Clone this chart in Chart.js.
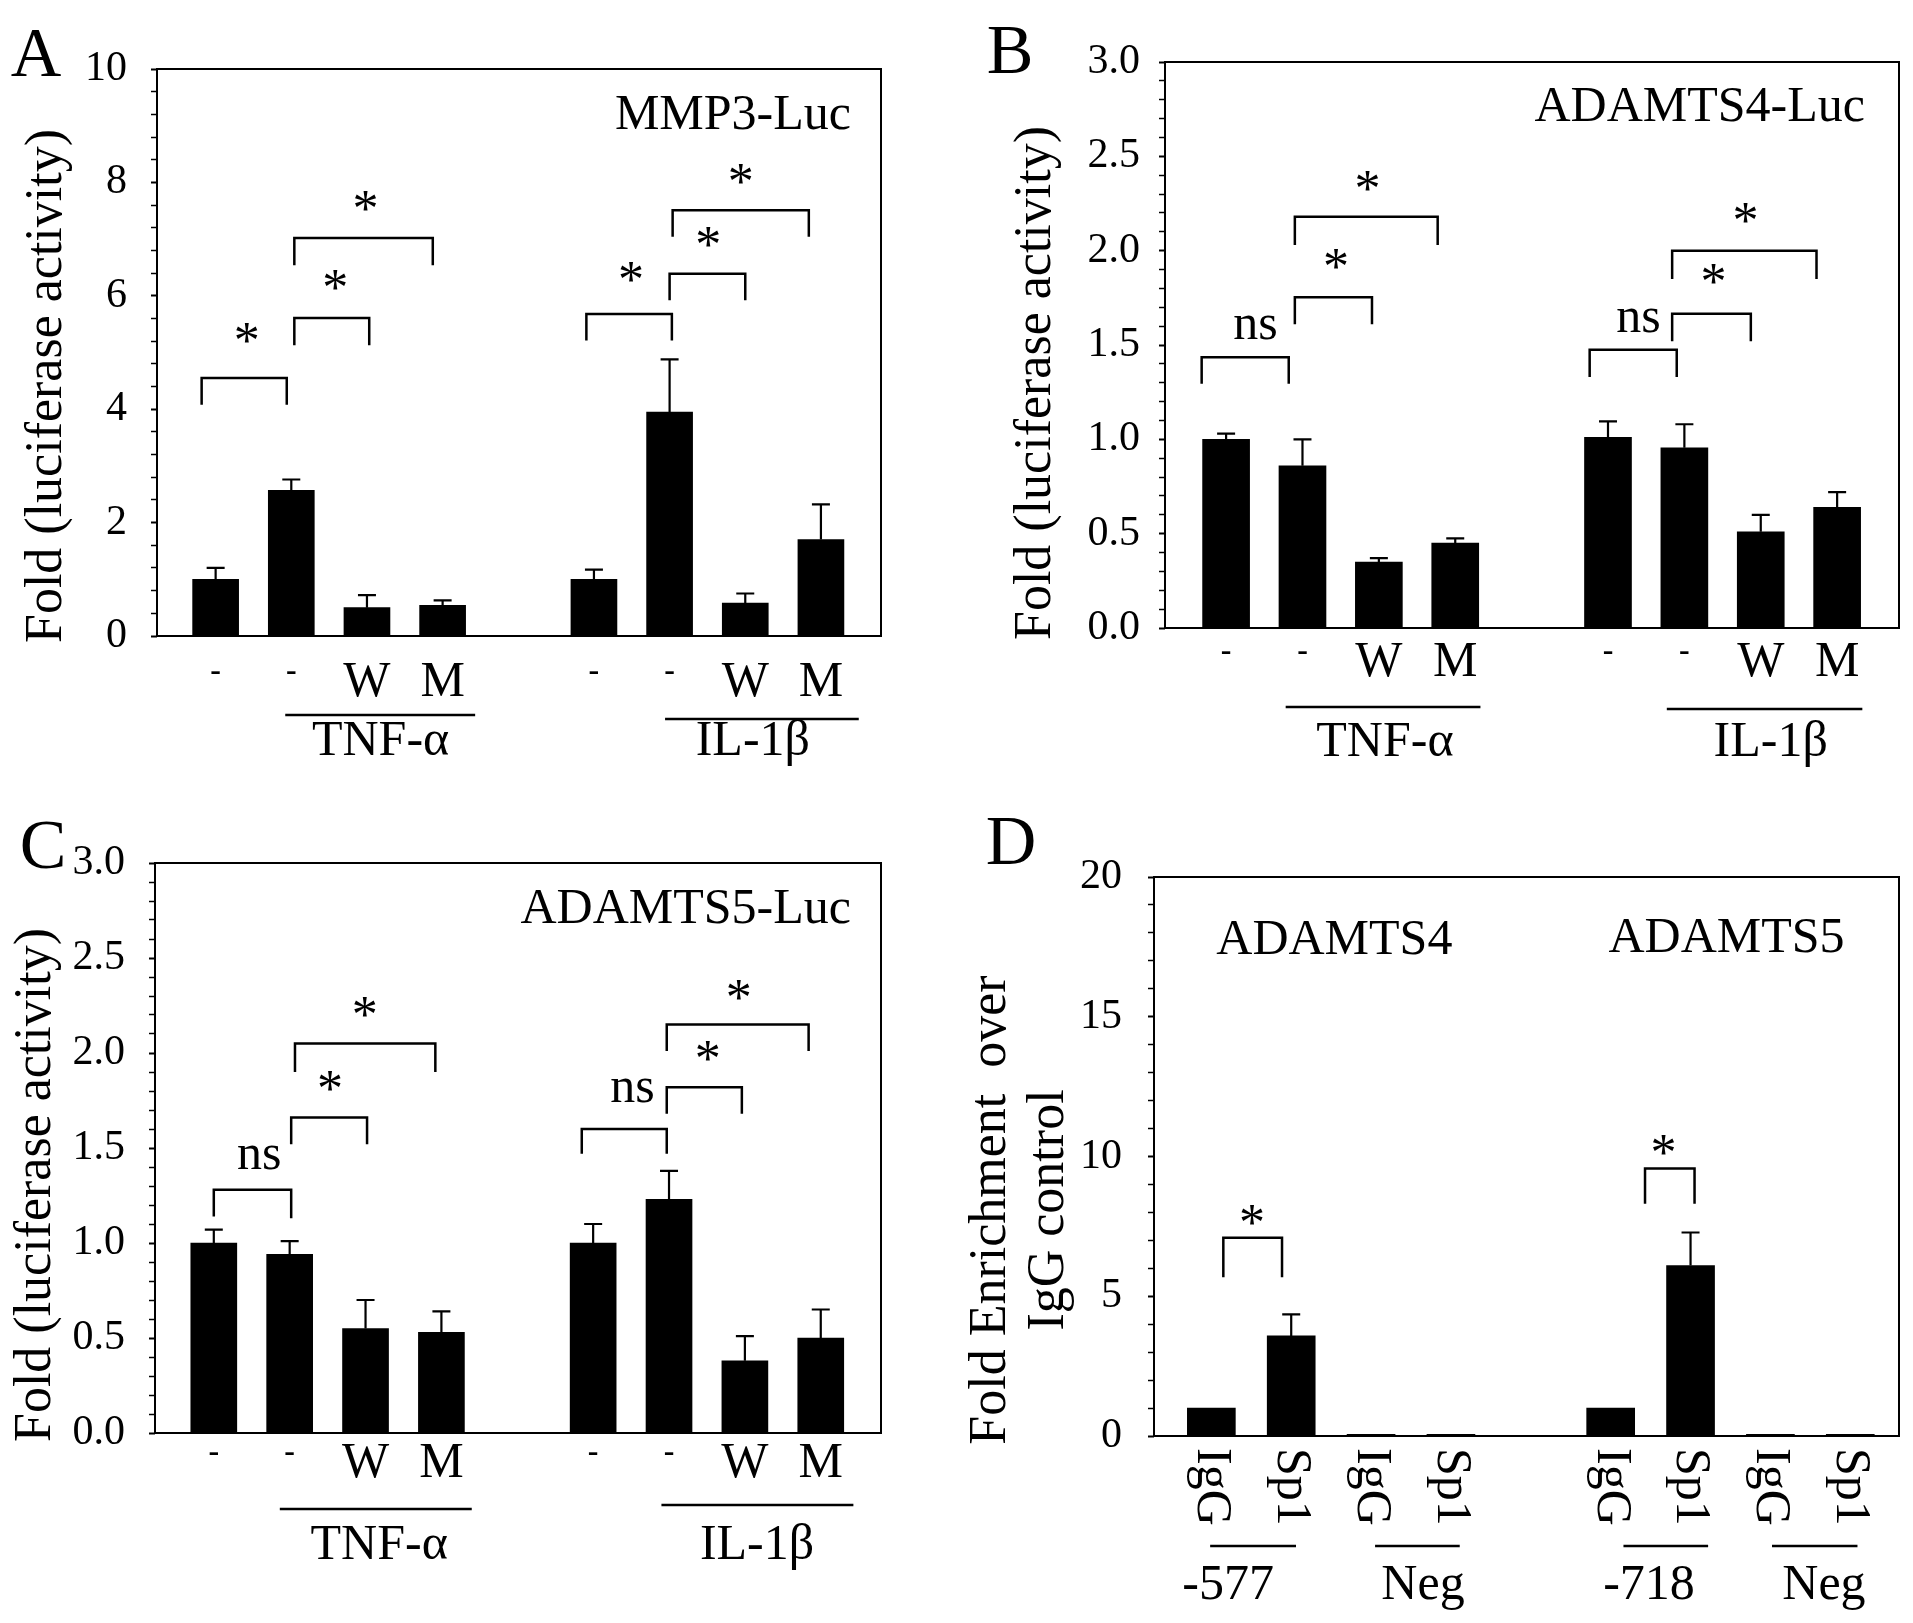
<!DOCTYPE html>
<html><head><meta charset="utf-8">
<script src="https://cdn.jsdelivr.net/npm/chart.js@4.4.1/dist/chart.umd.min.js"></script>
<style>
html,body{margin:0;padding:0;background:#fff;}
.panel{position:absolute;}
</style></head><body>
<div class="panel" style="left:0;top:0;width:956px;height:810px"><canvas id="cA"></canvas></div>
<div class="panel" style="left:956px;top:0;width:957px;height:810px"><canvas id="cB"></canvas></div>
<div class="panel" style="left:0;top:810px;width:956px;height:813px"><canvas id="cC"></canvas></div>
<div class="panel" style="left:956px;top:810px;width:957px;height:813px"><canvas id="cD"></canvas></div>
<script>
// ---------- data ----------
const slotPositions = [0, 1, 2, 3, 5, 6, 7, 8];
const treatmentLabels = ['-', '-', 'W', 'M', '-', '-', 'W', 'M'];
const chipLabels = ['IgG', 'Sp1', 'IgG', 'Sp1', 'IgG', 'Sp1', 'IgG', 'Sp1'];
const groupNames = ['TNF-α', 'IL-1β'];
const chipRegions = ['-577', 'Neg', '-718', 'Neg'];
const chipGenes = ['ADAMTS4', 'ADAMTS5'];

const mmp3Values = [1.0, 2.57, 0.5, 0.54, 1.0, 3.95, 0.58, 1.7];
const mmp3Errors = [0.2, 0.19, 0.22, 0.09, 0.17, 0.93, 0.17, 0.62];
const adamts4Values = [1.0, 0.86, 0.35, 0.45, 1.01, 0.955, 0.51, 0.64];
const adamts4Errors = [0.03, 0.14, 0.02, 0.025, 0.085, 0.125, 0.09, 0.08];
const adamts5Values = [1.0, 0.94, 0.55, 0.53, 1.0, 1.23, 0.38, 0.5];
const adamts5Errors = [0.07, 0.07, 0.15, 0.11, 0.1, 0.15, 0.13, 0.15];
const chipValues = [1.0, 3.58, 0.06, 0.06, 1.0, 6.1, 0.06, 0.06];
const chipErrors = [0, 0.77, 0, 0, 0, 1.18, 0, 0];

const yTicksA = [0, 2, 4, 6, 8, 10];
const yLabelsA = ['0', '2', '4', '6', '8', '10'];
const yTicksBC = [0, 0.5, 1.0, 1.5, 2.0, 2.5, 3.0];
const yLabelsBC = ['0.0', '0.5', '1.0', '1.5', '2.0', '2.5', '3.0'];
const yTicksD = [0, 5, 10, 15, 20];
const yLabelsD = ['0', '5', '10', '15', '20'];

// significance brackets: [xFrom, xTo, yTop, yLeftLegEnd, yRightLegEnd]
const mmp3Brackets = [[-0.185,0.94,4.55,4.08,4.08],[1.04,2.03,5.61,5.13,5.13],[1.04,2.87,7.02,6.54,6.54],[4.9,6.03,5.68,5.21,5.21],[6.0,7.0,6.39,5.92,5.92],[6.04,7.84,7.51,7.04,7.04]];
const mmp3Marks = [[0.41,5.27,'*'],[1.58,6.21,'*'],[1.98,7.6,'*'],[5.49,6.35,'*'],[6.51,6.97,'*'],[6.94,8.07,'*']];
const adamts4Brackets = [[-0.32,0.82,1.435,1.295,1.295],[0.9,1.91,1.753,1.61,1.61],[0.9,2.77,2.18,2.03,2.03],[4.76,5.9,1.475,1.33,1.33],[5.84,6.87,1.665,1.52,1.52],[5.84,7.73,2.0,1.85,1.85]];
const adamts4Marks = [[0.385,1.57,'ns'],[1.44,1.934,'*'],[1.85,2.35,'*'],[5.4,1.61,'ns'],[6.38,1.853,'*'],[6.8,2.18,'*']];
const adamts5Brackets = [[0,1.02,1.28,1.14,1.13],[1.02,2.02,1.66,1.52,1.52],[1.07,2.92,2.05,1.9,1.9],[4.85,5.97,1.6,1.47,1.47],[5.97,6.96,1.82,1.68,1.68],[5.97,7.84,2.15,2.01,2.01]];
const adamts5Marks = [[0.6,1.43,'ns'],[1.53,1.83,'*'],[1.99,2.22,'*'],[5.52,1.78,'ns'],[6.51,1.99,'*'],[6.92,2.31,'*']];
const chipBrackets = [[0.15,0.885,7.09,5.68,5.68],[5.43,6.05,9.57,8.31,8.31]];
const chipMarks = [[0.51,7.75,'*'],[5.66,10.28,'*']];

// ---------- drawing ----------
const FONT = '"Liberation Serif", "Times New Roman", serif';

function extrasPlugin(p) {
  return {
    id: 'extras',
    afterDatasetsDraw(chart) {
      const {ctx, chartArea: ca, scales: {x, y}} = chart;
      ctx.save();
      ctx.strokeStyle = '#000'; ctx.fillStyle = '#000';
      // error bars
      ctx.lineWidth = 2.2;
      p.values.forEach((v, i) => {
        const e = p.errors[i]; if (!e) return;
        const px = x.getPixelForValue(slotPositions[i]);
        const y0 = y.getPixelForValue(v), y1 = y.getPixelForValue(v + e);
        ctx.beginPath(); ctx.moveTo(px, y0); ctx.lineTo(px, y1);
        ctx.moveTo(px - 9, y1); ctx.lineTo(px + 9, y1); ctx.stroke();
      });
      // frame
      ctx.lineWidth = 2;
      ctx.strokeRect(ca.left, ca.top, ca.width, ca.height);
      // brackets
      ctx.lineWidth = 2.5;
      p.brackets.forEach(([x1, x2, yt, yl, yr]) => {
        const X1 = x.getPixelForValue(x1), X2 = x.getPixelForValue(x2), YT = y.getPixelForValue(yt);
        ctx.beginPath();
        ctx.moveTo(X1, y.getPixelForValue(yl)); ctx.lineTo(X1, YT);
        ctx.lineTo(X2, YT); ctx.lineTo(X2, y.getPixelForValue(yr));
        ctx.stroke();
      });
      ctx.textAlign = 'center'; ctx.textBaseline = 'middle';
      p.marks.forEach(([mx, my, t]) => {
        const size = t === '*' ? 52 : 50;
        ctx.font = size + 'px ' + FONT;
        const dy = t === '*' ? 0.14 * size : -0.11 * size;
        ctx.fillText(t, x.getPixelForValue(mx), y.getPixelForValue(my) + dy);
      });
      // in-plot titles
      ctx.font = '50px ' + FONT;
      if (p.title) {
        ctx.textAlign = 'right';
        ctx.fillText(p.title, ca.right + p.titleDx, ca.top + p.titleDy);
      }
      if (p.geneTitles) {
        ctx.textAlign = 'center';
        p.geneTitles.forEach(([gx, gy], i) => ctx.fillText(chipGenes[i], x.getPixelForValue(gx), y.getPixelForValue(gy)));
      }
      // panel letter
      ctx.font = '70px ' + FONT; ctx.textAlign = 'center';
      ctx.fillText(p.letter, p.letterPos[0], p.letterPos[1]);
      // y title
      ctx.font = '52px ' + FONT;
      p.yTitle.forEach((line, i) => {
        ctx.save();
        ctx.translate(p.yTitlePos[i][0], p.yTitlePos[i][1]);
        ctx.rotate(-Math.PI / 2);
        ctx.fillText(line, 0, 0);
        ctx.restore();
      });
      // group underlines + labels
      if (p.groups) {
        const g = p.groups;
        ctx.lineWidth = 2.5;
        g.spans.forEach(([a, b], i) => {
          const ly = ca.bottom + g.lineDy[i];
          ctx.beginPath(); ctx.moveTo(x.getPixelForValue(a), ly); ctx.lineTo(x.getPixelForValue(b), ly); ctx.stroke();
        });
        ctx.font = '50px ' + FONT; ctx.textAlign = 'center';
        g.textX.forEach((tx, i) => ctx.fillText(g.names[i], x.getPixelForValue(tx), ca.bottom + g.textDy[i]));
      }
      // rotated chip labels
      if (p.chip) {
        ctx.font = '50px ' + FONT;
        ctx.textAlign = 'left'; ctx.textBaseline = 'middle';
        chipLabels.forEach((t, i) => {
          ctx.save();
          ctx.translate(x.getPixelForValue(slotPositions[i]), ca.bottom + 12);
          ctx.rotate(Math.PI / 2);
          ctx.fillText(t, 0, 0);
          ctx.restore();
        });
      }
      ctx.restore();
    }
  };
}

function makeChart(p) {
  return new Chart(document.getElementById(p.id), {
    type: 'bar',
    data: {
      datasets: [{
        data: slotPositions.map((sx, i) => ({x: sx, y: p.values[i]})),
        backgroundColor: '#000', borderWidth: 0, barThickness: p.barWidth
      }]
    },
    options: {
      responsive: true, maintainAspectRatio: false, animation: false, devicePixelRatio: 1,
      layout: {padding: {top: p.top, right: p.right, left: 0, bottom: 0}},
      plugins: {legend: {display: false}, tooltip: {enabled: false}},
      scales: {
        x: {
          type: 'linear', min: p.xMin, max: p.xMax, offset: false,
          afterBuildTicks: s => { s.ticks = slotPositions.map(v => ({value: v})); },
          afterFit: s => { s.height = p.xHeight; },
          grid: {display: false, drawTicks: false},
          border: {display: false},
          ticks: {
            display: !p.chip, autoSkip: false, maxRotation: 0, minRotation: 0,
            padding: p.xPad || 0, color: '#000',
            font: c => treatmentLabels[c.index] === '-' ? {family: FONT, size: 32, weight: 'bold'} : {family: FONT, size: 50},
            callback: (v, i) => treatmentLabels[i]
          }
        },
        y: {
          type: 'linear', min: 0, max: p.yMax,
          afterBuildTicks: s => {
            const n = Math.round(p.yMax / p.minorStep);
            s.ticks = Array.from({length: n + 1}, (_, k) => ({value: +(k * p.minorStep).toFixed(6)}));
          },
          afterFit: s => { s.width = p.yWidth; },
          grid: {display: true, drawOnChartArea: false, drawTicks: true, tickLength: 6, color: '#000', tickColor: '#000',
                 tickWidth: c => (p.majorValues.some(m => Math.abs(m - c.tick.value) < 1e-6) ? 2 : 1.5)},
          border: {display: false},
          ticks: {
            autoSkip: false, padding: p.yPad, color: '#000', font: {family: FONT, size: 42},
            callback: v => { const i = p.majorValues.findIndex(m => Math.abs(m - v) < 1e-6); return i >= 0 ? p.majorLabels[i] : ''; }
          }
        }
      }
    },
    plugins: [extrasPlugin(p)]
  });
}

makeChart({
  id: 'cA', values: mmp3Values, errors: mmp3Errors,
  yMax: 10, minorStep: 0.4, majorValues: yTicksA, majorLabels: yLabelsA,
  xMin: -0.775, xMax: 8.794, barWidth: 46, yPad: 24, xPad: 17,
  top: 69, right: 75, yWidth: 157, xHeight: 174,
  brackets: mmp3Brackets, marks: mmp3Marks,
  title: 'MMP3-Luc', titleDx: -30, titleDy: 47,
  letter: 'A', letterPos: [36, 58],
  yTitle: ['Fold (luciferase activity)'], yTitlePos: [[47, 386]],
  groups: {names: groupNames, spans: [[0.92, 3.43], [5.94, 8.5]], lineDy: [79, 83], textX: [2.18, 7.1], textDy: [106, 106]}
});
makeChart({
  id: 'cB', values: adamts4Values, errors: adamts4Errors,
  yMax: 3, minorStep: 0.1, majorValues: yTicksBC, majorLabels: yLabelsBC,
  xMin: -0.8, xMax: 8.81, barWidth: 47, yPad: 19, xPad: 5,
  top: 62, right: 14, yWidth: 209, xHeight: 182,
  brackets: adamts4Brackets, marks: adamts4Marks,
  title: 'ADAMTS4-Luc', titleDx: -34, titleDy: 46,
  letter: 'B', letterPos: [54, 55],
  yTitle: ['Fold (luciferase activity)'], yTitlePos: [[80, 383]],
  groups: {names: groupNames, spans: [[0.78, 3.33], [5.77, 8.33]], lineDy: [79, 81], textX: [2.08, 7.13], textDy: [115, 115]}
});
makeChart({
  id: 'cC', values: adamts5Values, errors: adamts5Errors,
  yMax: 3, minorStep: 0.1, majorValues: yTicksBC, majorLabels: yLabelsBC,
  xMin: -0.775, xMax: 8.794, barWidth: 46, yPad: 24, xPad: 1,
  top: 53, right: 75, yWidth: 155, xHeight: 190,
  brackets: adamts5Brackets, marks: adamts5Marks,
  title: 'ADAMTS5-Luc', titleDx: -30, titleDy: 47,
  letter: 'C', letterPos: [43, 40],
  yTitle: ['Fold (luciferase activity)'], yTitlePos: [[36, 375]],
  groups: {names: groupNames, spans: [[0.87, 3.4], [5.9, 8.43]], lineDy: [76, 72], textX: [2.18, 7.16], textDy: [113, 113]}
});
makeChart({
  id: 'cD', values: chipValues, errors: chipErrors, chip: true,
  yMax: 20, minorStep: 1, majorValues: yTicksD, majorLabels: yLabelsD,
  xMin: -0.718, xMax: 8.61, barWidth: 48, yPad: 26,
  top: 67, right: 14, yWidth: 198, xHeight: 187,
  brackets: chipBrackets, marks: chipMarks,
  geneTitles: [[1.54, 17.7], [6.45, 17.8]],
  letter: 'D', letterPos: [55, 36],
  yTitle: ['Fold Enrichment  over', 'IgG control'], yTitlePos: [[35, 400], [93, 400]],
  groups: {names: chipRegions, spans: [[-0.015, 1.06], [2.05, 3.11], [5.16, 6.22], [7.02, 8.09]], lineDy: [110, 110, 110, 110], textX: [0.21, 2.65, 5.48, 7.67], textDy: [150, 150, 150, 150]}
});
</script>
</body></html>
